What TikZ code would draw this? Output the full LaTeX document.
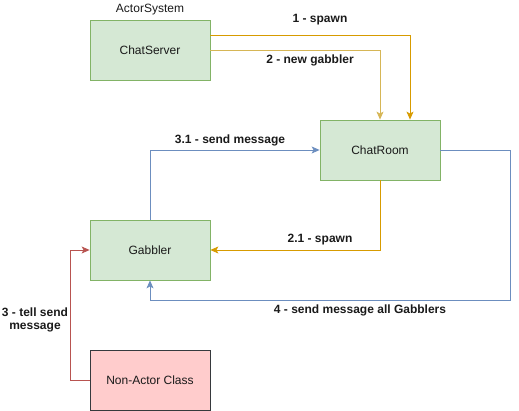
\documentclass[tikz,border=0pt]{standalone}
\usepackage{fontspec}
\setmainfont{Liberation Sans}
\usetikzlibrary{arrows.meta}
\definecolor{gfill}{HTML}{D5E8D4}
\definecolor{gdraw}{HTML}{82B366}
\definecolor{rfill}{HTML}{FFCCCC}
\definecolor{rdraw}{HTML}{36393D}
\definecolor{orange1}{HTML}{D79B00}
\definecolor{yellow1}{HTML}{D6B656}
\definecolor{blue1}{HTML}{6C8EBF}
\definecolor{red1}{HTML}{B85450}
\definecolor{txt}{HTML}{1A1A1A}
\tikzset{
  actor/.style={draw=gdraw, fill=gfill, line width=0.8pt, minimum width=120pt, minimum height=60pt, inner sep=0pt, font=\fontsize{12}{14}\selectfont, text=txt},
  nonactor/.style={actor, draw=rdraw, fill=rfill},
  conn/.style={line width=0.8pt, -{Stealth[length=8pt,width=7pt,inset=2pt]}},
  lbl/.style={font=\fontsize{12}{14}\selectfont\bfseries, text=txt, align=center, inner sep=1pt},
}
\begin{document}
\begin{tikzpicture}[x=1pt,y=-1pt]
\useasboundingbox (0,0) rectangle (519,411);
\node[actor] (cs) at (150,50) {ChatServer};
\node[actor] (cr) at (380,150) {ChatRoom};
\node[actor] (gb) at (150,250) {Gabbler};
\node[nonactor] (na) at (150,380) {Non-Actor Class};
\node[font=\fontsize{12}{14}\selectfont, text=txt] (as) at (150,10) {ActorSystem};

\coordinate (c1) at (410,35);
\draw[conn, orange1] (cs.east |- c1) -- (c1) -- (c1 |- cr.north);
\coordinate (c2) at (380,50);
\draw[conn, yellow1] (cs.east) -- (c2) -- (cr.north);
\coordinate (c31) at (150,150);
\draw[conn, blue1] (gb.north) -- (c31) -- (cr.west);
\coordinate (c21) at (380,250);
\draw[conn, orange1] (cr.south) -- (c21) -- (gb.east);
\coordinate (c4a) at (510,150);
\coordinate (c4b) at (510,300);
\coordinate (c4c) at (150,300);
\draw[conn, blue1] (cr.east) -- (c4a) -- (c4b) -- (c4c) -- (gb.south);
\coordinate (c3a) at (70,380);
\coordinate (c3b) at (70,250);
\draw[conn, red1] (na.west) -- (c3a) -- (c3b) -- (gb.west);

\node[lbl] (l1) at (320,20) {1 - spawn};
\node[lbl] (l2) at (310,60) {2 - new gabbler};
\node[lbl] (l31) at (230,140) {3.1 - send message};
\node[lbl] (l21) at (320,240) {2.1 - spawn};
\node[lbl] (l4) at (360,310) {4 - send message all Gabblers};
\node[lbl, font=\fontsize{12}{13}\selectfont\bfseries] (l3) at (35,320) {3 - tell send\\message};
\end{tikzpicture}
\end{document}
